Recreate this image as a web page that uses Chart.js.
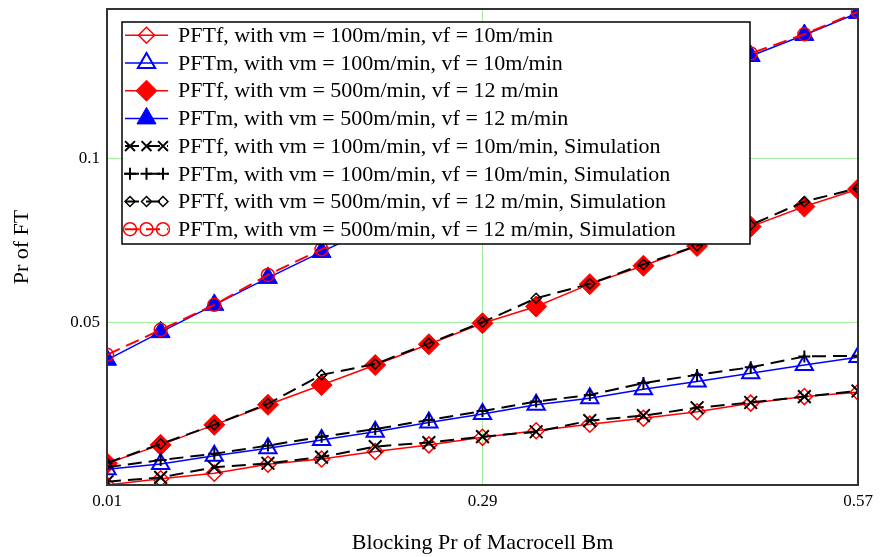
<!DOCTYPE html>
<html>
<head>
<meta charset="utf-8">
<script src="https://cdn.jsdelivr.net/npm/chart.js@4.4.0/dist/chart.umd.min.js"></script>
<style>
  html, body { margin: 0; padding: 0; background: #fff; }
  #wrap { width: 883px; height: 557px; }
</style>
</head>
<body>
<div id="wrap"><canvas id="c" width="883" height="557"></canvas></div>
<script>
// ---- data ----
const xValues = [0.01, 0.05, 0.09, 0.13, 0.17, 0.21, 0.25, 0.29, 0.33, 0.37, 0.41, 0.45, 0.49, 0.53, 0.57];
const xTickValues = [0.01, 0.29, 0.57];
const xTickLabels = ['0.01', '0.29', '0.57'];
const yTickValues = [0.05, 0.1];
const yTickLabels = ['0.05', '0.1'];

const pftfVm100 = [0.0006, 0.0025, 0.0042, 0.0069, 0.0085, 0.0108, 0.0128, 0.0151, 0.0171, 0.0191, 0.0209, 0.0229, 0.0255, 0.0275, 0.0288];
const pftmVm100 = [0.0054, 0.0070, 0.0095, 0.0118, 0.0143, 0.0168, 0.0196, 0.0222, 0.0250, 0.0270, 0.0297, 0.0321, 0.0346, 0.0371, 0.0395];
const pftfVm500 = [0.0072, 0.0128, 0.0189, 0.0250, 0.0310, 0.0371, 0.0434, 0.0498, 0.0549, 0.0617, 0.0673, 0.0733, 0.0792, 0.0853, 0.0906];
const pftmVm500 = [0.0387, 0.0471, 0.0554, 0.0636, 0.0715, 0.0793, 0.0870, 0.0946, 0.1021, 0.1095, 0.1168, 0.1240, 0.1311, 0.1375, 0.1442];
const simPftfVm100 = [0.0016, 0.0029, 0.0060, 0.0072, 0.0091, 0.0123, 0.0135, 0.0153, 0.0168, 0.0202, 0.0217, 0.0241, 0.0257, 0.0275, 0.0292];
const simPftmVm100 = [0.0060, 0.0082, 0.0101, 0.0126, 0.0153, 0.0176, 0.0204, 0.0231, 0.0260, 0.0280, 0.0316, 0.0341, 0.0364, 0.0397, 0.0399];
const simPftfVm500 = [0.0073, 0.0131, 0.0189, 0.0253, 0.0341, 0.0374, 0.0437, 0.0501, 0.0574, 0.0618, 0.0677, 0.0734, 0.0797, 0.0868, 0.0909];
const simPftmVm500 = [0.0402, 0.0478, 0.0554, 0.0645, 0.0723, 0.0801, 0.0878, 0.0954, 0.1029, 0.1103, 0.1176, 0.1248, 0.1319, 0.1377, 0.1446];

const seriesLabels = [
  'PFTf, with vm = 100m/min, vf = 10m/min',
  'PFTm, with vm = 100m/min, vf = 10m/min',
  'PFTf, with vm = 500m/min, vf = 12 m/min',
  'PFTm, with vm = 500m/min, vf = 12 m/min',
  'PFTf, with vm = 100m/min, vf = 10m/min, Simulation',
  'PFTm, with vm = 100m/min, vf = 10m/min, Simulation',
  'PFTf, with vm = 500m/min, vf = 12 m/min, Simulation',
  'PFTm, with vm = 500m/min, vf = 12 m/min, Simulation'
];
const xTitle = 'Blocking Pr of Macrocell Bm';
const yTitle = 'Pr of FT';

// ---- styling ----
const FONT = '"Liberation Serif", "Times New Roman", serif';
const RED = '#ff0000', BLUE = '#0000ff', BLACK = '#000000', NONE = 'rgba(0,0,0,0)';
const GRID = 'rgb(160,238,160)';
const DASH = [14, 7];
const legendMarkerCount = [1, 1, 1, 1, 3, 3, 3, 3];

function pts(arr) { return xValues.map((x, i) => ({ x: x, y: arr[i] })); }

function ds(label, data, o) {
  return Object.assign({
    label: label, data: pts(data), fill: false, tension: 0, clip: 0,
    borderWidth: 1.5, borderDash: [], showLine: true
  }, o);
}

const datasets = [
  ds(seriesLabels[0], pftfVm100, { borderColor: RED, pointStyle: 'rectRot', pointRadius: 8, pointBorderWidth: 1.5, pointBorderColor: RED, pointBackgroundColor: NONE, order: 1 }),
  ds(seriesLabels[1], pftmVm100, { borderColor: BLUE, pointStyle: 'triangle', pointRadius: 10, pointBorderWidth: 2, pointBorderColor: BLUE, pointBackgroundColor: NONE, order: 1 }),
  ds(seriesLabels[2], pftfVm500, { borderColor: RED, pointStyle: 'rectRot', pointRadius: 10.5, pointBorderWidth: 1, pointBorderColor: RED, pointBackgroundColor: RED, order: 1 }),
  ds(seriesLabels[3], pftmVm500, { borderColor: BLUE, pointStyle: 'triangle', pointRadius: 11, pointBorderWidth: 1, pointBorderColor: BLUE, pointBackgroundColor: BLUE, order: 1 }),
  ds(seriesLabels[4], simPftfVm100, { borderColor: BLACK, borderWidth: 2, borderDash: DASH, pointStyle: 'crossRot', pointRadius: 9, pointBorderWidth: 2, pointBorderColor: BLACK, pointBackgroundColor: NONE, order: 0 }),
  ds(seriesLabels[5], simPftmVm100, { borderColor: BLACK, borderWidth: 2, borderDash: DASH, pointStyle: 'cross', pointRadius: 6, pointBorderWidth: 2, pointBorderColor: BLACK, pointBackgroundColor: NONE, order: 0 }),
  ds(seriesLabels[6], simPftfVm500, { borderColor: BLACK, borderWidth: 2, borderDash: DASH, pointStyle: 'rectRot', pointRadius: 5, pointBorderWidth: 1.5, pointBorderColor: BLACK, pointBackgroundColor: NONE, order: 0 }),
  ds(seriesLabels[7], simPftmVm500, { borderColor: RED, borderWidth: 2, borderDash: DASH, pointStyle: 'circle', pointRadius: 6.5, pointBorderWidth: 1.5, pointBorderColor: RED, pointBackgroundColor: NONE, order: 0 })
];

const bgPlugin = {
  id: 'bg',
  beforeDraw(chart) {
    const ctx = chart.ctx;
    ctx.save(); ctx.fillStyle = '#fff'; ctx.fillRect(0, 0, chart.width, chart.height); ctx.restore();
  }
};

const frameLegendPlugin = {
  id: 'frameLegend',
  afterDraw(chart) {
    const ctx = chart.ctx, a = chart.chartArea;
    ctx.save();
    ctx.strokeStyle = '#333'; ctx.lineWidth = 2;
    ctx.strokeRect(a.left, a.top, a.right - a.left, a.bottom - a.top);

    const bx = a.left + 15, by = a.top + 13, bw = 628, bh = 222;
    ctx.fillStyle = '#fff'; ctx.fillRect(bx, by, bw, bh);
    ctx.lineWidth = 1.5; ctx.strokeStyle = '#000'; ctx.strokeRect(bx, by, bw, bh);

    chart.data.datasets.forEach((d, i) => {
      const y = by + 13.3 + i * 27.7;
      ctx.save();
      ctx.strokeStyle = d.borderColor; ctx.lineWidth = d.borderWidth;
      ctx.setLineDash(d.borderDash || []);
      ctx.beginPath(); ctx.moveTo(bx + 3, y); ctx.lineTo(bx + 46, y); ctx.stroke();
      ctx.setLineDash([]);
      const xs = legendMarkerCount[i] === 3 ? [bx + 8, bx + 24.5, bx + 41] : [bx + 24.5];
      xs.forEach(px => {
        ctx.fillStyle = d.pointBackgroundColor;
        ctx.strokeStyle = d.pointBorderColor;
        ctx.lineWidth = d.pointBorderWidth;
        const r = legendMarkerCount[i] === 3 ? Math.min(d.pointRadius, 7) : d.pointRadius;
        Chart.helpers.drawPoint(ctx, { pointStyle: d.pointStyle, radius: r, rotation: 0, borderWidth: d.pointBorderWidth }, px, y);
      });
      ctx.fillStyle = '#000';
      ctx.font = '22px ' + FONT;
      ctx.textBaseline = 'middle'; ctx.textAlign = 'left';
      ctx.fillText(d.label, bx + 56, y + 1);
      ctx.restore();
    });
    ctx.restore();
  }
};

new Chart(document.getElementById('c'), {
  type: 'scatter',
  data: { datasets: datasets },
  plugins: [bgPlugin, frameLegendPlugin],
  options: {
    responsive: false,
    devicePixelRatio: 1,
    animation: false,
    layout: { autoPadding: false, padding: { top: 9, right: 25, left: 0, bottom: 0 } },
    plugins: { legend: { display: false }, tooltip: { enabled: false }, title: { display: false } },
    scales: {
      x: {
        type: 'linear', min: 0.01, max: 0.57,
        afterBuildTicks(scale) { scale.ticks = xTickValues.map(v => ({ value: v })); },
        afterFit(scale) { scale.height = 72; scale.paddingLeft = 0; scale.paddingRight = 0; },
        ticks: {
          autoSkip: false, maxRotation: 0, padding: 6, color: '#000',
          font: { family: FONT, size: 17 },
          callback(v, i) { return xTickLabels[i]; }
        },
        grid: {
          drawTicks: false,
          color(c) { return (c.index === 0 || c.index === xTickValues.length - 1) ? NONE : GRID; },
          lineWidth: 1
        },
        border: { display: false },
        title: { display: true, text: xTitle, color: '#000', font: { family: FONT, size: 22 }, padding: { top: 0, bottom: 1 } }
      },
      y: {
        type: 'linear', min: 0.0006, max: 0.1454,
        afterBuildTicks(scale) { scale.ticks = yTickValues.map(v => ({ value: v })); },
        afterFit(scale) { scale.width = 107; scale.paddingTop = 0; scale.paddingBottom = 0; },
        ticks: {
          autoSkip: false, padding: 7, color: '#000',
          font: { family: FONT, size: 17 },
          callback(v, i) { return yTickLabels[i]; }
        },
        grid: { drawTicks: false, color: GRID, lineWidth: 1 },
        border: { display: false },
        title: { display: true, text: yTitle, color: '#000', font: { family: FONT, size: 22 }, padding: { top: 9, bottom: 0 } }
      }
    }
  }
});
</script>
</body>
</html>
